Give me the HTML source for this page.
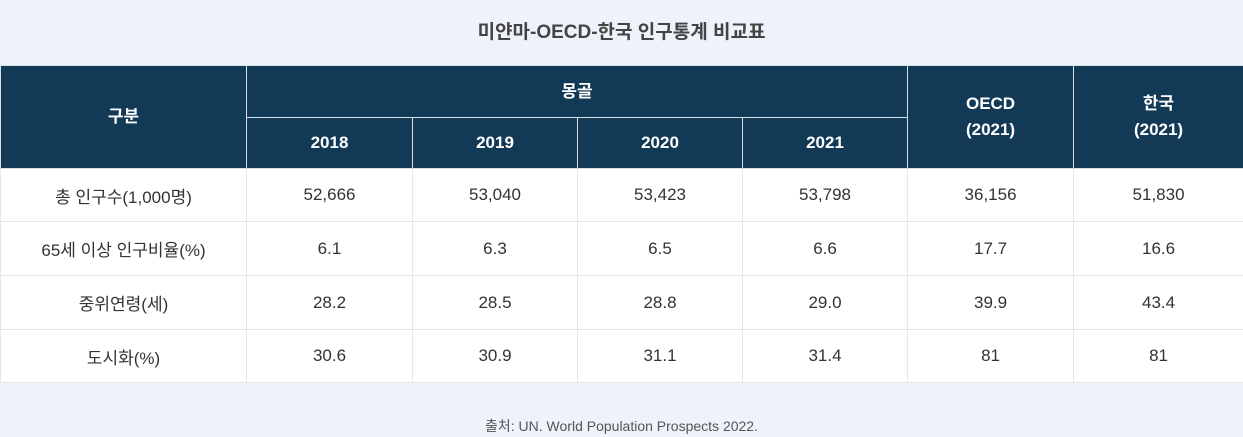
<!DOCTYPE html>
<html><head><meta charset="utf-8"><style>
html,body{margin:0;padding:0;width:1243px;height:437px;background:#eef2fa;overflow:hidden;font-family:"Liberation Sans","Noto Sans CJK KR",sans-serif;}
.title{position:absolute;top:17px;left:0;width:1243px;text-align:center;font-size:19px;font-weight:bold;color:#444;}
table{position:absolute;top:65px;left:0;width:1243px;border-collapse:collapse;table-layout:fixed;}
th{background:#123a57;color:#fff;font-size:17px;font-weight:bold;border:1px solid #d8dde3;line-height:26px;padding:0;}
td{background:#fff;color:#333;font-size:17px;text-align:center;border:1px solid #e6e6e6;height:53px;padding:0;}
tr.r1 td,tr.r4 td{height:52px}
tr.h1 th{height:51px}
tr.h2 th{height:50px}
.src{position:absolute;top:416px;left:0;width:1243px;text-align:center;font-size:14px;color:#555;}
</style></head><body>
<div class="title">미얀마-OECD-한국 인구통계 비교표</div>
<table>
<colgroup><col style="width:246px"><col style="width:166px"><col style="width:165px"><col style="width:165px"><col style="width:165px"><col style="width:166px"><col style="width:170px"></colgroup>
<tr class="h1"><th rowspan="2">구분</th><th colspan="4">몽골</th><th rowspan="2">OECD<br>(2021)</th><th rowspan="2">한국<br>(2021)</th></tr>
<tr class="h2"><th>2018</th><th>2019</th><th>2020</th><th>2021</th></tr>
<tr class="r1"><td>총 인구수(1,000명)</td><td>52,666</td><td>53,040</td><td>53,423</td><td>53,798</td><td>36,156</td><td>51,830</td></tr>
<tr class="r2"><td>65세 이상 인구비율(%)</td><td>6.1</td><td>6.3</td><td>6.5</td><td>6.6</td><td>17.7</td><td>16.6</td></tr>
<tr class="r3"><td>중위연령(세)</td><td>28.2</td><td>28.5</td><td>28.8</td><td>29.0</td><td>39.9</td><td>43.4</td></tr>
<tr class="r4"><td>도시화(%)</td><td>30.6</td><td>30.9</td><td>31.1</td><td>31.4</td><td>81</td><td>81</td></tr>
</table>
<div class="src">출처: UN. World Population Prospects 2022.</div>
</body></html>
